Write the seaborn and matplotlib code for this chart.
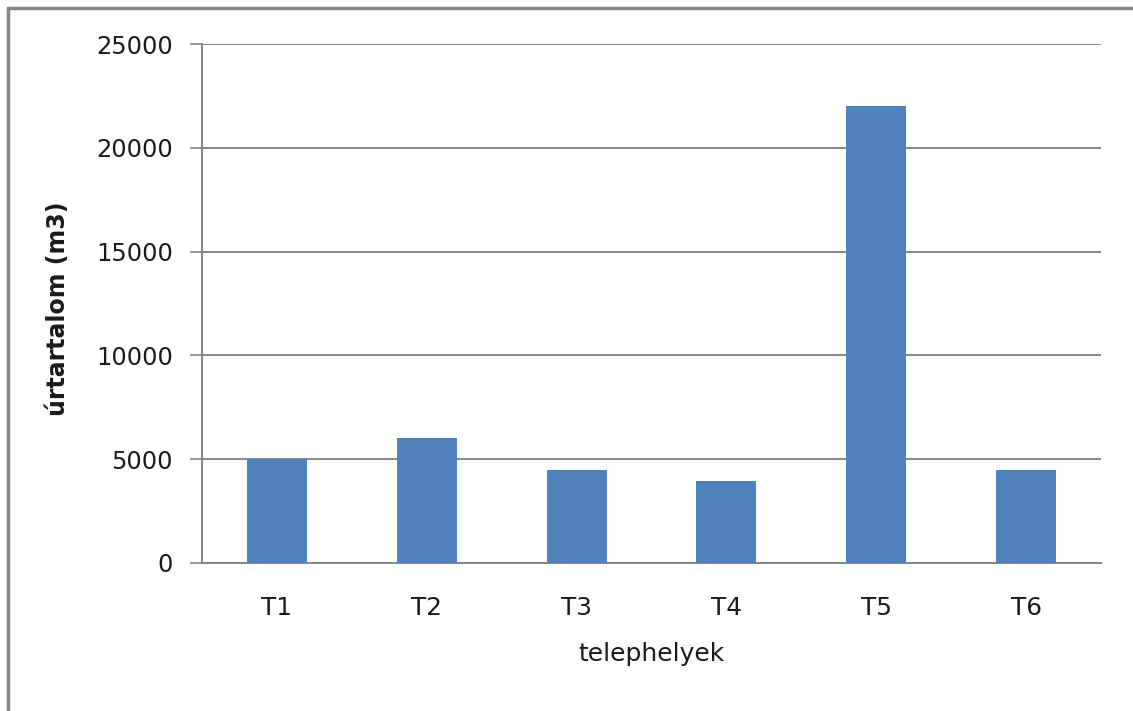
import matplotlib
matplotlib.use("Agg")
import matplotlib.pyplot as plt
from matplotlib.patches import Rectangle
import seaborn as sns
import pandas as pd

# Storage volume per site
telephelyek = ["T1", "T2", "T3", "T4", "T5", "T6"]
urtartalom = [5000, 6000, 4500, 3950, 22000, 4500]
y_ticks = [0, 5000, 10000, 15000, 20000, 25000]

sns.set_theme(style="white")
plt.rcParams["font.family"] = ["DejaVu Sans"]

W, H, DPI = 1133, 711, 100
fig = plt.figure(figsize=(W / DPI, H / DPI), dpi=DPI)
ax = fig.add_axes([202 / W, 1 - 563 / H, (1101 - 202) / W, (563 - 44) / H])

df = pd.DataFrame({"telephelyek": telephelyek, "urtartalom": urtartalom})
sns.barplot(data=df, x="telephelyek", y="urtartalom", color="#4F81BD",
            saturation=1, width=0.4, linewidth=0, ax=ax, zorder=3)

grid_c = "#868686"
text_c = "#1a1a1a"
ax.set_ylim(0, 25000)
ax.set_yticks(y_ticks)
ax.set_yticklabels([str(v) for v in y_ticks], fontsize=17.4, color=text_c)
ax.set_xlim(-0.5, len(telephelyek) - 0.5)
ax.tick_params(axis="x", length=0, pad=24, labelsize=17.8, labelcolor=text_c)
ax.tick_params(axis="y", length=9, width=1.2, color=grid_c, pad=12, left=True)
ax.yaxis.grid(True, color=grid_c, linewidth=1.4, zorder=0)
ax.set_axisbelow(True)

for side in ("top", "right"):
    ax.spines[side].set_visible(False)
for side in ("left", "bottom"):
    ax.spines[side].set_color(grid_c)
    ax.spines[side].set_linewidth(1.4)

ax.set_xlabel("telephelyek", fontsize=18, color=text_c, va="top")
ax.xaxis.set_label_coords(0.5, -0.152)
ax.set_ylabel("úrtartalom (m3)", fontsize=17, fontweight="bold",
              color=text_c, va="center")
ax.yaxis.set_label_coords(-0.160, 0.49)

# chart frame
fig.patches.append(Rectangle((8 / W, -0.1), 1.2, 1.1 - 7.5 / H,
                             transform=fig.transFigure, fill=False,
                             edgecolor=grid_c, linewidth=2.5, clip_on=False))

fig.savefig("out.png", dpi=DPI, facecolor="white")
